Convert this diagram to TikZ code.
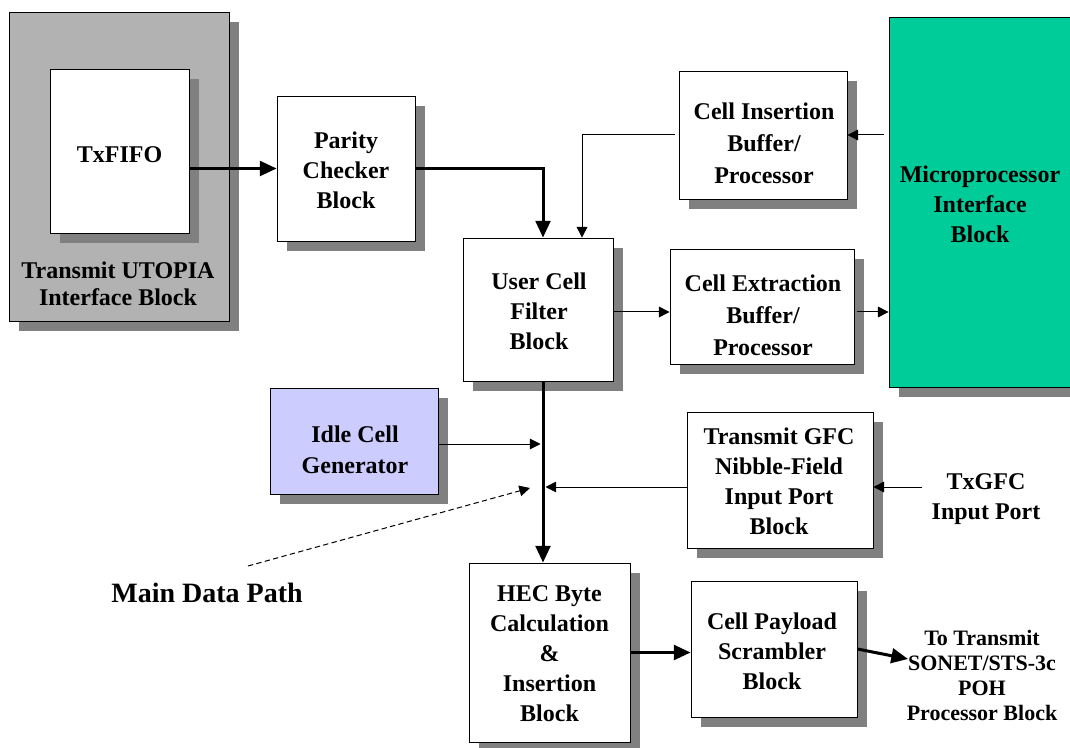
\documentclass[tikz,border=0pt]{standalone}
\usepackage{fontspec}
\setmainfont{Liberation Serif}
\usetikzlibrary{arrows.meta,shadows,calc}
\definecolor{shadowgray}{RGB}{128,128,128}
\definecolor{utopiagray}{RGB}{178,178,178}
\definecolor{microgreen}{RGB}{0,204,153}
\definecolor{idleblue}{RGB}{204,204,255}
\tikzset{
  wh/.style 2 args={minimum width=#1*0.75pt,minimum height=#2*0.75pt},
  box/.style={draw=black,line width=0.6pt,fill=white,inner sep=0pt,
    general shadow={fill=shadowgray,shadow xshift=7.5pt,shadow yshift=-7.5pt}},
  lbl/.style={font=\fontsize{18}{#1}\selectfont\bfseries,align=center,inner sep=1pt},
  lbl/.default=22.5,
  thickarr/.style={line width=2.25pt,-{Triangle[length=12.5pt,width=11pt]}},
  thinarr/.style={line width=0.75pt,-{Triangle[length=8pt,width=8pt]}},
}
\begin{document}
\begin{tikzpicture}[x=0.75pt,y=-0.75pt]
\useasboundingbox (0,0) rectangle (1070,748);

% blocks
\node[box,fill=utopiagray,wh={220}{309}] (utopia) at (119,166.5) {};
\node[box,wh={139}{164}] (txfifo) at (119.5,151) {};
\node[lbl] (txfifo-t) at (119.5,155) {TxFIFO};
\node[lbl=20.25] (utopia-t) at (118,283.5) {Transmit UTOPIA\\Interface Block};

\node[box,wh={138}{145}] (parity) at (346,168.5) {};
\node[lbl] (parity-t) at (346,170) {Parity\\Checker\\Block};

\node[box,wh={150}{143}] (ucf) at (538,309.5) {};
\node[lbl] (ucf-t) at (539,311.5) {User Cell\\Filter\\Block};

\node[box,wh={168}{128}] (cins) at (763,135) {};
\node[lbl=24] (cins-t) at (764,143) {Cell Insertion\\Buffer/\\Processor};

\node[box,wh={184}{115}] (cext) at (762,306.5) {};
\node[lbl=24] (cext-t) at (763,315) {Cell Extraction\\Buffer/\\Processor};

\node[box,fill=microgreen,wh={182}{370}] (micro) at (980,202) {};
\node[lbl] (micro-t) at (980,204) {Microprocessor\\Interface\\Block};

\node[box,fill=idleblue,wh={168}{106}] (idle) at (354,441) {};
\node[lbl=23.25] (idle-t) at (355,449.5) {Idle Cell\\Generator};

\node[box,wh={186}{136}] (gfc) at (780,480) {};
\node[lbl] (gfc-t) at (779,481.5) {Transmit GFC\\Nibble-Field\\Input Port\\Block};

\node[lbl] (txgfc) at (986,499) {TxGFC\\Input Port};

\node[box,wh={161}{179}] (hec) at (549.5,652.5) {};
\node[lbl] (hec-t) at (549.5,654) {HEC Byte\\Calculation\\\&\\Insertion\\Block};

\node[box,wh={166}{136}] (payload) at (774,649) {};
\node[lbl] (payload-t) at (772,651) {Cell Payload\\Scrambler\\Block};

\node[font=\fontsize{16.5}{18.75}\selectfont\bfseries,align=center,inner sep=1pt] (totx) at (982,675) {To Transmit\\SONET/STS-3c\\POH\\Processor Block};

\node[font=\fontsize{21}{25}\selectfont\bfseries,inner sep=1pt] (mdp) at (207,593) {Main Data Path};

% helper coordinates
\coordinate (mx) at (543,0);
\coordinate (cx) at (582,0);
\coordinate (ey) at (0,312);
\coordinate (iy) at (540.5,444);
\coordinate (gy) at (545.5,487);
\coordinate (tt) at (908,659);
\coordinate (ds) at (248,566);
\coordinate (de) at (530,488);

% connectors
\draw[thickarr] (txfifo.east |- parity.west) -- (parity.west);
\draw[thickarr] (parity.east) -| (ucf.north -| mx);
\draw[thinarr,shorten <=3pt] (cins.west) -| (ucf.north -| cx);
\draw[thinarr,shorten <=3.75pt] (micro.west |- cins.east) -- (cins.east);
\draw[thinarr] (ucf.east |- ey) -- (cext.west |- ey);
\draw[thinarr,shorten <=2pt] (cext.east |- ey) -- (micro.west |- ey);
\draw[thickarr] (ucf.south -| mx) -- (hec.north -| mx);
\draw[thinarr] (idle.east |- iy) -- (iy);
\draw[thinarr] (gfc.west |- gy) -- (gy);
\draw[thinarr] ($(txgfc.west |- gy)+(-8,0)$) -- (gfc.east |- gy);
\draw[thickarr] (hec.east) -- (payload.west |- hec.east);
\draw[thickarr] (payload.east) -- (tt);
\draw[thinarr,dash pattern=on 4pt off 2.5pt] (ds) -- (de);
\end{tikzpicture}
\end{document}
